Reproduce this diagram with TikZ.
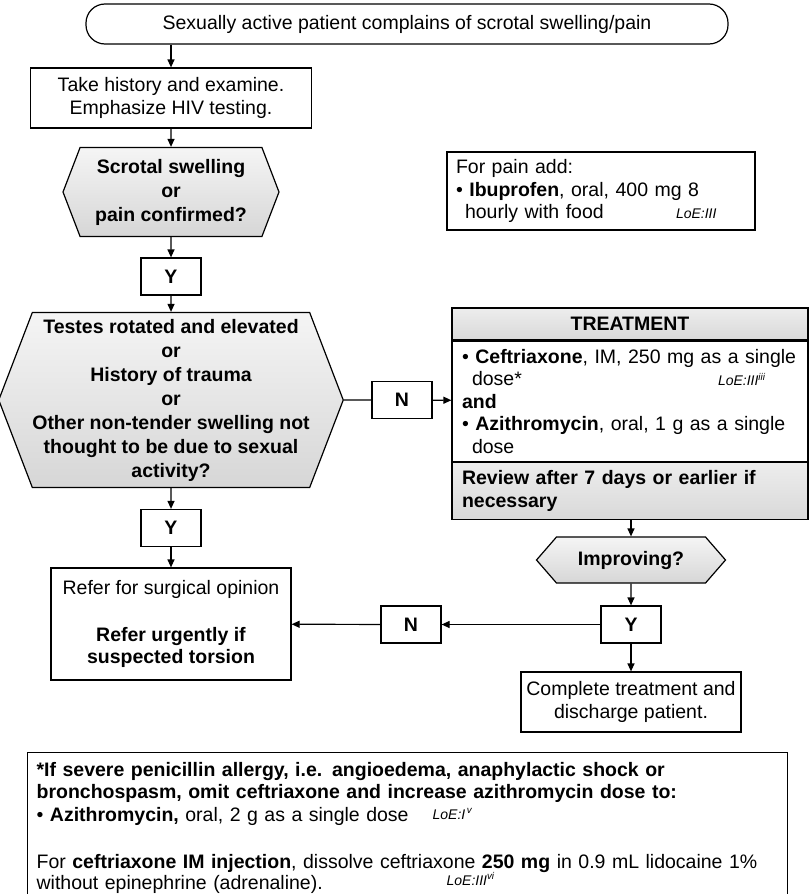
\documentclass[tikz,border=0pt]{standalone}
\usepackage{fontspec}
\setmainfont{Liberation Sans}
\usetikzlibrary{positioning,shapes.symbols,arrows.meta}

\newcommand{\loetag}[2]{{\fontsize{14}{16}\selectfont\itshape LoE:#1\textsuperscript{#2}}}

\tikzset{
    box/.style={draw, line width=1.2pt, fill=white, align=center, inner sep=0pt},
    dec/.style={draw, line width=1.2pt, shape=signal, signal to=west and east,
        top color=gray!8, bottom color=gray!32, align=center, inner sep=0pt,
        font=\bfseries\fontsize{19.5}{24}\selectfont},
    yn/.style={box, minimum width=60pt, minimum height=37pt, font=\bfseries},
    band/.style={draw, line width=1.2pt, top color=gray!14, bottom color=gray!30,
        inner sep=0pt, font=\bfseries},
    arr/.style={line width=1.2pt, -{Triangle[length=8pt,width=7pt]}}
}

\begin{document}
\fontsize{19.5}{22.5}\selectfont
\begin{tikzpicture}[x=1pt, y=-1pt]
    \clip (0,0) rectangle (810,894);

    % left column
    \node[box, rounded corners=19pt, minimum width=642pt, minimum height=40pt] (start) at (407,24)
        {Sexually active patient complains of scrotal swelling/pain};
    \node[box, minimum width=281pt, minimum height=60pt] (hist) at (171,98)
        {Take history and examine.\\Emphasize HIV testing.};
    \node[dec, minimum width=216pt, minimum height=89pt, signal pointer angle=138] (swell) at (171,192)
        {Scrotal swelling\\or\\pain confirmed?};
    \node[yn] (yes1) at (171,276.5) {Y};
    \node[dec, minimum width=328pt, minimum height=175pt, signal pointer angle=138] (torsion) at (171,400)
        {Testes rotated and elevated\\or\\History of trauma\\or\\Other non-tender swelling not\\thought to be due to sexual\\activity?};
    \node[yn] (no1) at (402,400) {N};
    \node[yn] (yes2) at (171,528) {Y};
    \node[box, minimum width=240pt, minimum height=112pt] (refer) at (171,624)
        {Refer for surgical opinion\\[24.5pt]\textbf{Refer urgently if}\\\textbf{suspected torsion}};

    % pain box
    \node[box, align=left, text width=290pt, inner xsep=9pt, minimum height=78pt] (pain) at (601,191)
        {For pain add:\\
         \textbullet\ \textbf{Ibuprofen}, oral, 400 mg 8\\
         \hspace*{9pt}\makebox[211pt][l]{hourly with food}\loetag{III}{}};

    % treatment box
    \node[band, minimum width=356pt, minimum height=32pt] (thead) at (630,324) {TREATMENT};
    \node[box, below=0pt of thead, align=left, text width=336pt, inner xsep=10pt, minimum height=120pt] (tbody)
        {\textbullet\ \textbf{Ceftriaxone}, IM, 250 mg as a single\\
         \hspace*{10pt}\makebox[246pt][l]{dose*}\loetag{III}{iii}\\
         \textbf{and}\\
         \textbullet\ \textbf{Azithromycin}, oral, 1 g as a single\\
         \hspace*{10pt}dose};
    \node[band, below=0pt of tbody, align=left, text width=336pt, inner xsep=10pt, minimum height=57pt] (trev)
        {Review after 7 days or earlier if\\necessary};

    % right column
    \node[dec, minimum width=189pt, minimum height=46pt, signal pointer angle=98] (better) at (631,560) {Improving?};
    \node[yn] (yes3) at (631,624.5) {Y};
    \node[yn] (no2) at (411,624.5) {N};
    \node[box, minimum width=220pt, minimum height=60pt] (done) at (631,702)
        {Complete treatment and\\discharge patient.};

    % footnote box
    \node[box, anchor=north west, align=left, text width=742pt, inner xsep=9pt, inner ysep=7pt, minimum height=150pt] (note) at (27,752)
        {\textbf{*If severe penicillin allergy, i.e. angioedema, anaphylactic shock or}\\
         \textbf{bronchospasm, omit ceftriaxone and increase azithromycin dose to:}\\
         \makebox[396pt][l]{\textbullet\ \textbf{Azithromycin,} oral, 2 g as a single dose}\raisebox{2pt}{\loetag{I}{\,v}}\\[25pt]
         For \textbf{ceftriaxone IM injection}, dissolve ceftriaxone \textbf{250 mg} in 0.9 mL lidocaine 1\%\\[-2pt]
         \makebox[410pt][l]{without epinephrine (adrenaline).}\raisebox{4pt}{\loetag{III}{vi}}};

    % connectors
    \draw[arr] (start.south -| hist.north) -- (hist.north);
    \draw[arr] (hist) -- (swell);
    \draw[arr] (swell) -- (yes1);
    \draw[arr] (yes1) -- (torsion);
    \draw[line width=1.2pt] (torsion) -- (no1);
    \draw[arr] (no1) -- (tbody);
    \draw[arr] (torsion) -- (yes2);
    \draw[arr] (yes2) -- (refer);
    \draw[arr] (trev.south -| better.north) -- (better.north);
    \draw[arr] (better) -- (yes3);
    \draw[arr] (yes3) -- (no2);
    \draw[arr] (no2) -- (refer);
    \draw[arr] (yes3) -- (done);
\end{tikzpicture}
\end{document}
